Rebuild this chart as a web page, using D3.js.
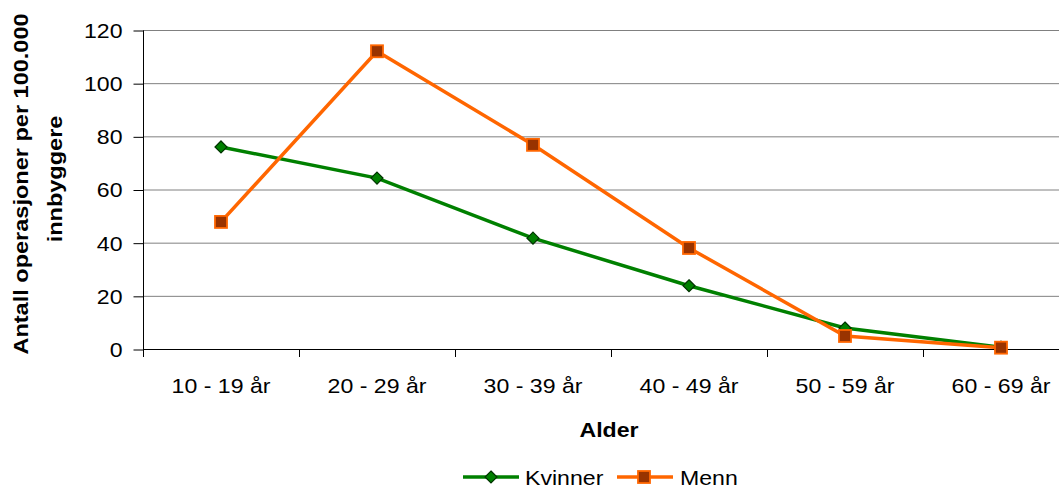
<!DOCTYPE html>
<html><head><meta charset="utf-8">
<script src="https://cdn.jsdelivr.net/npm/d3@7"></script>
<style>body{margin:0;background:#fff;overflow:hidden}svg{display:block;font-family:"Liberation Sans",Arial,sans-serif}</style>
</head><body>
<svg id="c" width="1059" height="488"></svg>
<script>
const categories = ["10 - 19 år","20 - 29 år","30 - 39 år","40 - 49 år","50 - 59 år","60 - 69 år"];
const kvinner = [76, 64.3, 41.7, 23.8, 7.9, 0.7];
const menn = [47.8, 112, 76.8, 38, 4.9, 0.5];
const yTicks = [0,20,40,60,80,100,120];
const seriesNames = ["Kvinner","Menn"];

const FONT = "Liberation Sans, Arial, sans-serif";
const FS = 21;
const svg = d3.select("#c");
const L = 143, R = 1079, T = 30, B = 349;
const x = d3.scaleBand().domain(categories).range([L, R]);
const y = d3.scaleLinear().domain([0,120]).range([B, T]);

function stretch(sel, f) {
  sel.each(function(){
    const w = this.getComputedTextLength();
    d3.select(this).attr("textLength", w*f).attr("lengthAdjust","spacingAndGlyphs");
  });
}

// gridlines
svg.append("g").selectAll("line").data(yTicks.filter(d=>d>0)).join("line")
  .attr("x1", L).attr("x2", R).attr("y1", d=>y(d)+0.5).attr("y2", d=>y(d)+0.5)
  .attr("stroke","#808080").attr("stroke-width",1);

// y axis
const ya = svg.append("g").attr("transform",`translate(${L+0.5},0.5)`)
  .call(d3.axisLeft(y).tickValues(yTicks).tickSize(10).tickPadding(11));
ya.select(".domain").attr("stroke","#000").attr("d",`M0,${T}V${B}`);
ya.selectAll(".tick line").attr("stroke","#000");
ya.selectAll("text").attr("font-size",FS).attr("fill","#000").attr("font-family",FONT).attr("dy","0.33em");
stretch(ya.selectAll("text"), 1.1);

// x axis
const xa = svg.append("g").attr("transform",`translate(0,${B+0.5})`)
  .call(d3.axisBottom(x).tickSize(0));
xa.select(".domain").attr("stroke","#000").attr("d",`M${L},0H${R}`);
xa.selectAll("text").attr("font-size",FS).attr("fill","#000").attr("font-family",FONT).attr("y",43).attr("dy",0);
stretch(xa.selectAll("text"), 1.1);
svg.append("g").selectAll("line").data(d3.range(categories.length+1)).join("line")
  .attr("x1", i=>Math.round(L + i*x.step())+0.5).attr("x2", i=>Math.round(L + i*x.step())+0.5)
  .attr("y1", B).attr("y2", B+8).attr("stroke","#000");

const cx = d => x(d) + x.bandwidth()/2;
const line = d3.line().x((d,i)=>cx(categories[i])).y(d=>y(d));

svg.append("path").datum(kvinner).attr("d",line).attr("fill","none").attr("stroke","#008000").attr("stroke-width",3.5);
svg.append("path").datum(menn).attr("d",line).attr("fill","none").attr("stroke","#FF6600").attr("stroke-width",3.5);

const diamond = (g, px, py) => g.append("path")
  .attr("d", `M${px},${py-6}L${px+6},${py}L${px},${py+6}L${px-6},${py}Z`)
  .attr("fill","#008000").attr("stroke","#003300").attr("stroke-width",1.2);
const square = (g, px, py) => g.append("rect")
  .attr("x",px-6).attr("y",py-6).attr("width",12).attr("height",12)
  .attr("fill","#993300").attr("stroke","#FF6600").attr("stroke-width",1.8);

const mk = svg.append("g");
kvinner.forEach((v,i)=>diamond(mk, cx(categories[i]), y(v)));
menn.forEach((v,i)=>square(mk, cx(categories[i]), y(v)));

// titles
const at = svg.append("text").attr("x",609).attr("y",437).attr("text-anchor","middle")
  .attr("font-size",FS).attr("font-weight","bold").text("Alder");
stretch(at, 1.1);
const t1 = svg.append("text").attr("transform","translate(28,184) rotate(-90)")
  .attr("text-anchor","middle").attr("font-size",FS).attr("font-weight","bold").text("Antall operasjoner per 100.000");
const t2 = svg.append("text").attr("transform","translate(62,179) rotate(-90)")
  .attr("text-anchor","middle").attr("font-size",FS).attr("font-weight","bold").text("innbyggere");
stretch(t1, 1.12); stretch(t2, 1.12);

// legend
const lg = svg.append("g");
lg.append("line").attr("x1",463).attr("x2",519).attr("y1",477).attr("y2",477).attr("stroke","#008000").attr("stroke-width",3.5);
diamond(lg, 491, 477);
const l1 = lg.append("text").attr("x",525).attr("y",485).attr("font-size",FS).text(seriesNames[0]);
lg.append("line").attr("x1",617).attr("x2",673).attr("y1",477).attr("y2",477).attr("stroke","#FF6600").attr("stroke-width",3.5);
square(lg, 644, 477);
const l2 = lg.append("text").attr("x",680).attr("y",485).attr("font-size",FS).text(seriesNames[1]);
stretch(l1, 1.1); stretch(l2, 1.1);
</script>
</body></html>
